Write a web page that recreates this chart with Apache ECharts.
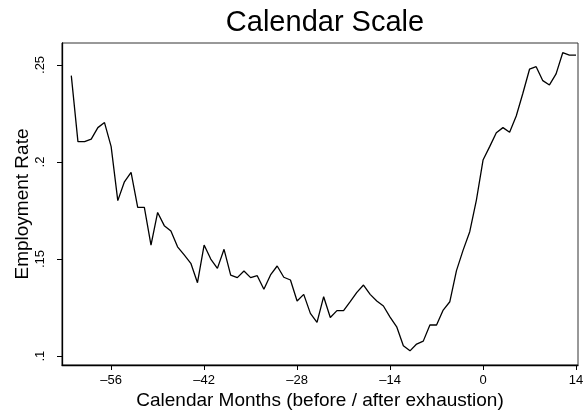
<!DOCTYPE html>
<html>
<head>
<meta charset="utf-8">
<script src="https://cdn.jsdelivr.net/npm/echarts@6/dist/echarts.min.js"></script>
<style>
    html, body { margin: 0; padding: 0; background: #fff; }
    #chart { width: 583px; height: 414px; }
</style>
</head>
<body>
<div id="chart"></div>
<script>
// months relative to exhaustion, -62 .. 14
var months = [];
for (var m = -62; m <= 14; m++) months.push(m);

var rates = [
    0.2445, 0.2105, 0.2105, 0.2118, 0.2177, 0.2203, 0.2079, 0.1801, 0.1898, 0.1947, // -62..-53
    0.1766, 0.1766, 0.1572, 0.1740, 0.1672, 0.1644, 0.1563, 0.1521, 0.1478, 0.1378, // -52..-43
    0.1572, 0.1500, 0.1452, 0.1550, 0.1417, 0.1404, 0.1438, 0.1404, 0.1414, 0.1344, // -42..-33
    0.1418, 0.1464, 0.1406, 0.1392, 0.1284, 0.1318, 0.1220, 0.1174, 0.1306, 0.1199, // -32..-23
    0.1234, 0.1234, 0.1280, 0.1328, 0.1366, 0.1318, 0.1284, 0.1258, 0.1201, 0.1151, // -22..-13
    0.1053, 0.1027, 0.1062, 0.1077, 0.1160, 0.1160, 0.1237, 0.1280, 0.1440, 0.1546, // -12..-3
    0.1641, 0.1804, 0.2010, 0.2079, 0.2151, 0.2177, 0.2153, 0.2237, 0.2354, 0.2478, // -2..7
    0.2491, 0.2419, 0.2397, 0.2454, 0.2563, 0.2551, 0.2551                          // 8..14
];

var xTicks = [-56, -42, -28, -14, 0, 14];
var yTicks = [0.1, 0.15, 0.2, 0.25];

var chart = echarts.init(document.getElementById("chart"));
var FONT = "Liberation Sans, Arial, sans-serif";

var option = {
    animation: false,
    backgroundColor: "#fff",
    title: {
        text: "Calendar Scale",
        left: 320,
        textAlign: "center",
        top: 3,
        textStyle: { fontFamily: FONT, fontSize: 29, fontWeight: "normal", color: "#000" }
    },
    grid: {
        left: 62, right: 5, top: 43, bottom: 49,
        containLabel: false,
        outerBoundsMode: "none",
        show: true, borderColor: "#333", borderWidth: 1, backgroundColor: "#fff"
    },
    xAxis: {
        type: "value",
        min: -63.4,
        max: 14.3,
        name: "Calendar Months (before / after exhaustion)",
        nameLocation: "middle",
        nameGap: 26,
        nameMoveOverlap: false,
        nameTextStyle: { fontFamily: FONT, fontSize: 19, color: "#000" },
        axisLine: { show: true, onZero: false, lineStyle: { color: "#000", width: 1.3 } },
        axisTick: { show: true, length: 5, customValues: xTicks, lineStyle: { color: "#000" } },
        axisLabel: {
            customValues: xTicks,
            fontFamily: FONT, fontSize: 13, color: "#000", margin: 9,
            formatter: function(v) { return v < 0 ? "\u2013" + Math.abs(v) : String(v); }
        },
        splitLine: { show: false }
    },
    yAxis: {
        type: "value",
        min: 0.0954,
        max: 0.2613,
        name: "Employment Rate",
        nameLocation: "middle",
        nameGap: 30,
        nameMoveOverlap: false,
        nameTextStyle: { fontFamily: FONT, fontSize: 19, color: "#000" },
        axisLine: { show: true, onZero: false, lineStyle: { color: "#000", width: 1.3 } },
        axisTick: { show: true, length: 5, customValues: yTicks, lineStyle: { color: "#000" } },
        axisLabel: {
            customValues: yTicks,
            rotate: 90,
            fontFamily: FONT, fontSize: 13, color: "#000", margin: 15,
            formatter: function(v) { return String(v).replace(/^0/, ""); }
        },
        splitLine: { show: false }
    },
    series: [{
        type: "line",
        data: months.map(function(m, i) { return [m, rates[i]]; }),
        showSymbol: false,
        lineStyle: { color: "#000", width: 1.3 }
    }]
};

chart.setOption(option);
</script>
</body>
</html>
